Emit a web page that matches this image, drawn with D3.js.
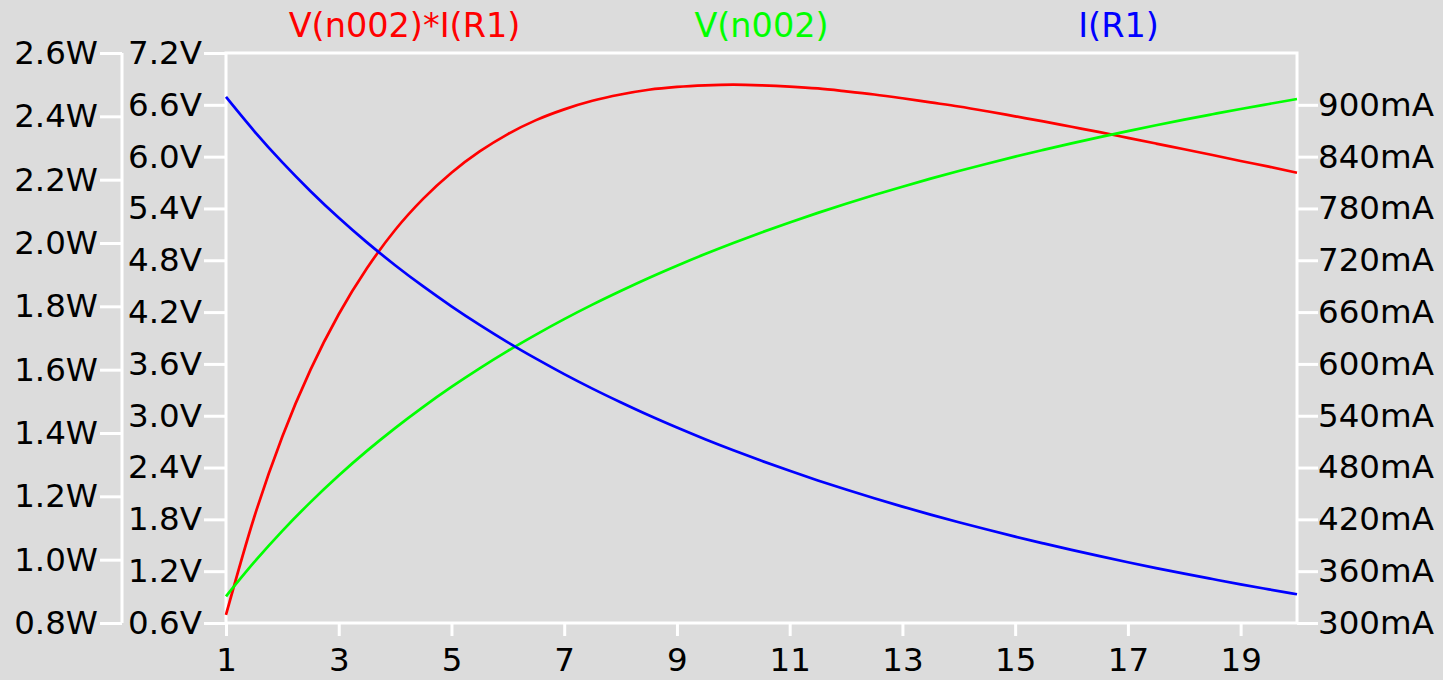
<!DOCTYPE html>
<html>
<head>
<meta charset="utf-8">
<script src="https://cdn.jsdelivr.net/npm/d3@7"></script>
<style>
  html, body { margin: 0; padding: 0; background: #dcdcdc; }
  svg { display: block; }
  text { font-family: "DejaVu Sans", sans-serif; }
</style>
</head>
<body>
<svg id="chart" width="1443" height="680"></svg>
<script>
// ---- data ----
const rLoad = [1,1.5,2,2.5,3,3.5,4,4.5,5,5.5,6,6.5,7,7.5,8,8.5,9,9.5,10,10.5,11,11.5,12,12.5,13,13.5,14,14.5,15,15.5,16,16.5,17,17.5,18,18.5,19,19.5,20];
const powerW = [0.826,1.134,1.389,1.600,1.775,1.920,2.041,2.140,2.222,2.289,2.344,2.388,2.422,2.449,2.469,2.484,2.493,2.498,2.500,2.498,2.494,2.488,2.479,2.469,2.457,2.444,2.431,2.416,2.400,2.384,2.367,2.350,2.332,2.314,2.296,2.278,2.259,2.241,2.222];
const voltageV = [0.909,1.304,1.667,2.000,2.308,2.593,2.857,3.103,3.333,3.548,3.750,3.939,4.118,4.286,4.444,4.595,4.737,4.872,5.000,5.122,5.238,5.349,5.455,5.556,5.652,5.745,5.833,5.918,6.000,6.078,6.154,6.226,6.296,6.364,6.429,6.491,6.552,6.610,6.667];
const currentMA = [909.1,869.6,833.3,800.0,769.2,740.7,714.3,689.7,666.7,645.2,625.0,606.1,588.2,571.4,555.6,540.5,526.3,512.8,500.0,487.8,476.2,465.1,454.5,444.4,434.8,425.5,416.7,408.2,400.0,392.2,384.6,377.4,370.4,363.6,357.1,350.9,344.8,339.0,333.3];

const xTicks = [1,3,5,7,9,11,13,15,17,19];
const wTicks = [0.8,1.0,1.2,1.4,1.6,1.8,2.0,2.2,2.4,2.6];
const vTicks = [0.6,1.2,1.8,2.4,3.0,3.6,4.2,4.8,5.4,6.0,6.6,7.2];
const aTicks = [300,360,420,480,540,600,660,720,780,840,900];

const traceNames = ["V(n002)*I(R1)", "V(n002)", "I(R1)"];
const traceColors = ["#ff0000", "#00ff00", "#0000ff"];

// ---- layout ----
const plotL = 226, plotR = 1297, plotT = 53, plotB = 623;
const wAxisX = 122;
const svg = d3.select("#chart");
const fs = 32.5;
const titleFs = 33.5;

const x = d3.scaleLinear().domain([1, 20]).range([plotL, plotR]);
const yW = d3.scaleLinear().domain([0.8, 2.6]).range([plotB, plotT]);
const yV = d3.scaleLinear().domain([0.6, 7.2]).range([plotB, plotT]);
const yA = d3.scaleLinear().domain([300, 960]).range([plotB, plotT]);

function styleAxis(g) {
  g.select(".domain").remove();
  g.selectAll(".tick line").attr("stroke", "#ffffff").attr("stroke-width", 3);
  g.selectAll(".tick text").attr("fill", "#000").attr("font-size", fs)
    .attr("font-family", "DejaVu Sans, sans-serif");
}

// frame
svg.append("rect").attr("x", plotL).attr("y", plotT).attr("width", plotR - plotL).attr("height", plotB - plotT)
  .attr("fill", "none").attr("stroke", "#ffffff").attr("stroke-width", 3);
// W axis line
svg.append("line").attr("x1", wAxisX).attr("x2", wAxisX).attr("y1", plotT).attr("y2", plotB)
  .attr("stroke", "#ffffff").attr("stroke-width", 3);

// x axis
svg.append("g").attr("transform", `translate(0,${plotB})`)
  .call(d3.axisBottom(x).tickValues(xTicks).tickSize(13).tickPadding(12).tickFormat(d3.format("d")))
  .call(styleAxis);

// W axis
svg.append("g").attr("transform", `translate(${wAxisX},0)`)
  .call(d3.axisLeft(yW).tickValues(wTicks).tickSize(22).tickPadding(2).tickFormat(d => d3.format(".1f")(d) + "W"))
  .call(styleAxis);

// V axis
svg.append("g").attr("transform", `translate(${plotL},0)`)
  .call(d3.axisLeft(yV).tickValues(vTicks).tickSize(22).tickPadding(2).tickFormat(d => d3.format(".1f")(d) + "V"))
  .call(styleAxis);

// mA axis
svg.append("g").attr("transform", `translate(${plotR},0)`)
  .call(d3.axisRight(yA).tickValues(aTicks).tickSize(21).tickPadding(0).tickFormat(d => d + "mA"))
  .call(styleAxis);

// traces
const series = [
  { vals: powerW, y: yW },
  { vals: voltageV, y: yV },
  { vals: currentMA, y: yA }
];
series.forEach((s, i) => {
  const line = d3.line().x((d, j) => x(rLoad[j])).y(d => s.y(d)).curve(d3.curveMonotoneX);
  svg.append("path").datum(s.vals).attr("d", line).attr("fill", "none")
    .attr("stroke", traceColors[i]).attr("stroke-width", 2.7).attr("stroke-linejoin", "round");
});

// titles
const centers = [1/6, 1/2, 5/6];
traceNames.forEach((n, i) => {
  svg.append("text").attr("x", plotL + (plotR - plotL) * centers[i]).attr("y", 37)
    .attr("text-anchor", "middle").attr("font-size", titleFs).attr("fill", traceColors[i]).text(n);
});
</script>
</body>
</html>
